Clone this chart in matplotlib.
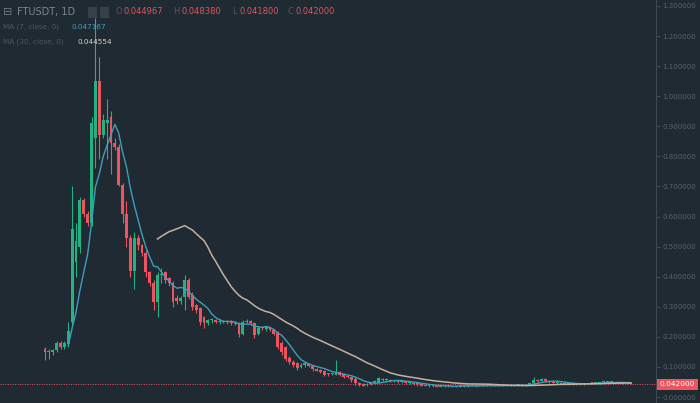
import matplotlib
matplotlib.use("Agg")
import matplotlib.pyplot as plt
from matplotlib.patches import Rectangle
import numpy as np
import pandas as pd

# daily candles FTUSDT
opens = [0.160, 0.152, 0.148, 0.155, 0.180, 0.165, 0.175, 0.250, 0.450, 0.500,
         0.655, 0.610, 0.580, 0.860, 1.050, 0.870, 0.910, 0.930, 0.845, 0.830,
         0.705, 0.610, 0.530, 0.420, 0.530, 0.505, 0.480, 0.415, 0.380, 0.315,
         0.405, 0.415, 0.395, 0.380, 0.330, 0.318, 0.333, 0.389, 0.340, 0.305,
         0.295, 0.265, 0.245, 0.255, 0.255, 0.250, 0.252, 0.248, 0.250, 0.245,
         0.245, 0.210, 0.250, 0.252, 0.245, 0.210, 0.230, 0.225, 0.232, 0.222,
         0.212, 0.180, 0.165, 0.130, 0.118, 0.112, 0.100, 0.105, 0.110, 0.104,
         0.094, 0.090, 0.088, 0.076, 0.075, 0.074, 0.082, 0.078, 0.068, 0.066,
         0.060, 0.046, 0.042, 0.040, 0.043, 0.048, 0.048, 0.060, 0.055, 0.058,
         0.052, 0.056, 0.050, 0.052, 0.046, 0.048, 0.042, 0.044, 0.038, 0.040,
         0.036, 0.038, 0.034, 0.038, 0.035, 0.037, 0.034, 0.036, 0.038, 0.035,
         0.039, 0.036, 0.038, 0.036, 0.039, 0.037, 0.039, 0.036, 0.038, 0.037,
         0.040, 0.038, 0.040, 0.041, 0.038, 0.041, 0.045, 0.056, 0.054, 0.060,
         0.054, 0.050, 0.047, 0.048, 0.044, 0.046, 0.043, 0.045, 0.042, 0.044,
         0.043, 0.047, 0.045, 0.046, 0.049, 0.051, 0.049, 0.050, 0.047, 0.048,
         0.045, 0.044967]
highs = [0.165, 0.158, 0.160, 0.185, 0.185, 0.185, 0.250, 0.700, 0.580, 0.665,
         0.660, 0.620, 0.930, 1.260, 1.130, 0.940, 0.990, 0.950, 0.860, 0.840,
         0.710, 0.650, 0.540, 0.550, 0.540, 0.510, 0.490, 0.420, 0.390, 0.415,
         0.430, 0.420, 0.400, 0.385, 0.340, 0.335, 0.405, 0.395, 0.350, 0.310,
         0.300, 0.270, 0.260, 0.262, 0.260, 0.258, 0.256, 0.255, 0.256, 0.252,
         0.250, 0.255, 0.258, 0.256, 0.250, 0.235, 0.235, 0.235, 0.235, 0.225,
         0.218, 0.185, 0.168, 0.135, 0.122, 0.115, 0.112, 0.118, 0.114, 0.106,
         0.097, 0.092, 0.090, 0.080, 0.079, 0.123, 0.085, 0.080, 0.072, 0.068,
         0.066, 0.050, 0.046, 0.045, 0.050, 0.055, 0.066, 0.064, 0.062, 0.060,
         0.058, 0.058, 0.054, 0.053, 0.050, 0.049, 0.046, 0.045, 0.042, 0.042,
         0.040, 0.040, 0.040, 0.041, 0.039, 0.038, 0.038, 0.039, 0.040, 0.040,
         0.041, 0.039, 0.040, 0.040, 0.041, 0.040, 0.040, 0.039, 0.040, 0.041,
         0.042, 0.041, 0.043, 0.042, 0.042, 0.046, 0.068, 0.060, 0.062, 0.062,
         0.058, 0.052, 0.050, 0.050, 0.048, 0.048, 0.047, 0.047, 0.046, 0.046,
         0.048, 0.049, 0.048, 0.050, 0.052, 0.054, 0.052, 0.051, 0.050, 0.049,
         0.047, 0.04838]
lows = [0.123, 0.125, 0.140, 0.150, 0.160, 0.160, 0.165, 0.240, 0.400, 0.480,
        0.600, 0.570, 0.570, 0.760, 0.790, 0.860, 0.790, 0.740, 0.820, 0.700,
        0.580, 0.500, 0.400, 0.360, 0.490, 0.470, 0.400, 0.370, 0.290, 0.266,
        0.380, 0.380, 0.370, 0.300, 0.310, 0.310, 0.290, 0.325, 0.290, 0.280,
        0.240, 0.230, 0.240, 0.245, 0.245, 0.244, 0.245, 0.242, 0.240, 0.238,
        0.200, 0.205, 0.245, 0.240, 0.195, 0.205, 0.222, 0.220, 0.218, 0.205,
        0.160, 0.140, 0.120, 0.110, 0.100, 0.090, 0.095, 0.100, 0.100, 0.088,
        0.085, 0.080, 0.070, 0.070, 0.072, 0.072, 0.070, 0.062, 0.062, 0.050,
        0.040, 0.036, 0.035, 0.037, 0.040, 0.045, 0.045, 0.052, 0.050, 0.050,
        0.050, 0.048, 0.046, 0.044, 0.044, 0.040, 0.038, 0.036, 0.035, 0.034,
        0.033, 0.032, 0.032, 0.033, 0.033, 0.033, 0.032, 0.034, 0.034, 0.034,
        0.035, 0.034, 0.035, 0.035, 0.036, 0.036, 0.035, 0.035, 0.036, 0.036,
        0.037, 0.036, 0.038, 0.037, 0.037, 0.040, 0.044, 0.050, 0.052, 0.052,
        0.048, 0.045, 0.044, 0.042, 0.042, 0.041, 0.041, 0.041, 0.040, 0.041,
        0.042, 0.043, 0.043, 0.044, 0.046, 0.047, 0.046, 0.045, 0.045, 0.043,
        0.043, 0.0418]
closes = [0.150, 0.148, 0.155, 0.180, 0.165, 0.180, 0.220, 0.560, 0.520, 0.655,
          0.610, 0.580, 0.910, 1.050, 0.870, 0.920, 0.920, 0.845, 0.830, 0.705,
          0.610, 0.530, 0.420, 0.530, 0.505, 0.480, 0.415, 0.380, 0.315, 0.405,
          0.410, 0.390, 0.380, 0.315, 0.318, 0.330, 0.389, 0.333, 0.300, 0.290,
          0.250, 0.245, 0.255, 0.258, 0.250, 0.252, 0.248, 0.250, 0.245, 0.242,
          0.210, 0.250, 0.252, 0.245, 0.205, 0.230, 0.228, 0.232, 0.222, 0.210,
          0.165, 0.150, 0.125, 0.115, 0.108, 0.098, 0.108, 0.112, 0.104, 0.092,
          0.088, 0.084, 0.074, 0.075, 0.077, 0.082, 0.074, 0.066, 0.065, 0.055,
          0.045, 0.040, 0.038, 0.043, 0.048, 0.052, 0.062, 0.055, 0.058, 0.052,
          0.056, 0.050, 0.052, 0.046, 0.048, 0.042, 0.044, 0.038, 0.040, 0.036,
          0.038, 0.034, 0.038, 0.035, 0.037, 0.034, 0.036, 0.038, 0.035, 0.039,
          0.036, 0.038, 0.036, 0.039, 0.037, 0.039, 0.036, 0.038, 0.037, 0.040,
          0.038, 0.040, 0.041, 0.038, 0.041, 0.045, 0.058, 0.054, 0.060, 0.054,
          0.050, 0.047, 0.048, 0.044, 0.046, 0.043, 0.045, 0.042, 0.044, 0.043,
          0.047, 0.045, 0.046, 0.049, 0.051, 0.049, 0.050, 0.047, 0.048, 0.045,
          0.046, 0.042]

price_ticks = np.round(np.arange(0, 1.31, 0.1), 1)
ohlc_labels = [('O', '0.044967'), ('H', '0.048380'), ('L', '0.041800'), ('C', '0.042000')]
ma_labels = [('MA (7, close, 0)', '0.047167'), ('MA (30, close, 0)', '0.044554')]

bg = '#1f2a32'
up = '#22b383'
down = '#ec5560'
ma7_color = '#3d9fbe'
ma30_color = '#c6b19c'
dim = '#58646c'

W, H = 700, 403


def px(x, y):
    return x / W, 1 - y / H


fig = plt.figure(figsize=(W / 100, H / 100), dpi=100, facecolor=bg)
ax = fig.add_axes([0, 0, 656 / W, 1])
ax.set_facecolor(bg)

df = pd.DataFrame({'o': opens, 'h': highs, 'l': lows, 'c': closes})
idx = np.arange(len(df))
colors = np.where(df.c >= df.o, up, down)

ax.vlines(idx, df.l, df.h, colors=colors, linewidth=0.8, zorder=2)
body_lo = np.minimum(df.o, df.c)
body_h = np.maximum((df.c - df.o).abs(), 0.0035)
ax.bar(idx, body_h, bottom=body_lo, width=0.74, color=colors, linewidth=0, zorder=3)

ma7 = df.c.rolling(7).mean()
ma30 = df.c.rolling(30).mean()
ax.plot(idx, ma7, color=ma7_color, lw=1.0, zorder=4)
ax.plot(idx, ma30, color=ma30_color, lw=1.1, zorder=4)

# last price marker
ax.axhline(closes[-1], color=down, lw=0.7, ls=(0, (1, 1.5)), zorder=1)
ax.text(1.0 + 4 / 656, closes[-1], '0.042000', transform=ax.get_yaxis_transform(),
        ha='left', va='center', fontsize=5.3, color='white', clip_on=False,
        bbox=dict(boxstyle='square,pad=0.35', fc=down, ec='none'))

ax.set_xlim(-11.6, 157.5)
ax.set_ylim(-0.0199, 1.3198)
ax.set_xticks([])
ax.yaxis.tick_right()
ax.set_yticks(price_ticks)
ax.set_yticklabels([f'{t:.6f}' for t in price_ticks])
ax.tick_params(axis='y', colors='#4b565e', labelcolor=dim, labelsize=5,
               length=3, width=0.6, pad=1.5)
for side in ['top', 'left', 'bottom']:
    ax.spines[side].set_visible(False)
ax.spines['right'].set_color('#3e4950')
ax.spines['right'].set_linewidth(0.8)

# header legend
fig.text(*px(3, 12), '\u229f', fontsize=8, color='#6e787f', va='center')
fig.text(*px(17, 12), 'FTUSDT, 1D', fontsize=7, color='#7d878d', va='center')
for bx in (88, 100):
    fig.patches.append(Rectangle(px(bx, 18), 9 / W, 11 / H, transform=fig.transFigure,
                                 fc='#36424a', ec='none'))
for (letter, val), lx in zip(ohlc_labels, [115, 173, 232, 288]):
    fig.text(*px(lx, 12), letter, fontsize=6, color='#4f5b63', va='center')
    fig.text(*px(lx + 8, 12), val, fontsize=6, color='#e4525c', va='center')

fig.text(*px(3, 27), ma_labels[0][0], fontsize=5.2, color='#4c5860', va='center')
fig.text(*px(72, 27), ma_labels[0][1], fontsize=5.2, color=ma7_color, va='center')
fig.text(*px(3, 42), ma_labels[1][0], fontsize=5.2, color='#4c5860', va='center')
fig.text(*px(77, 42), ma_labels[1][1], fontsize=5.2, color='#e0cfbd', va='center')

fig.savefig('out.png', dpi=100, facecolor=bg)
